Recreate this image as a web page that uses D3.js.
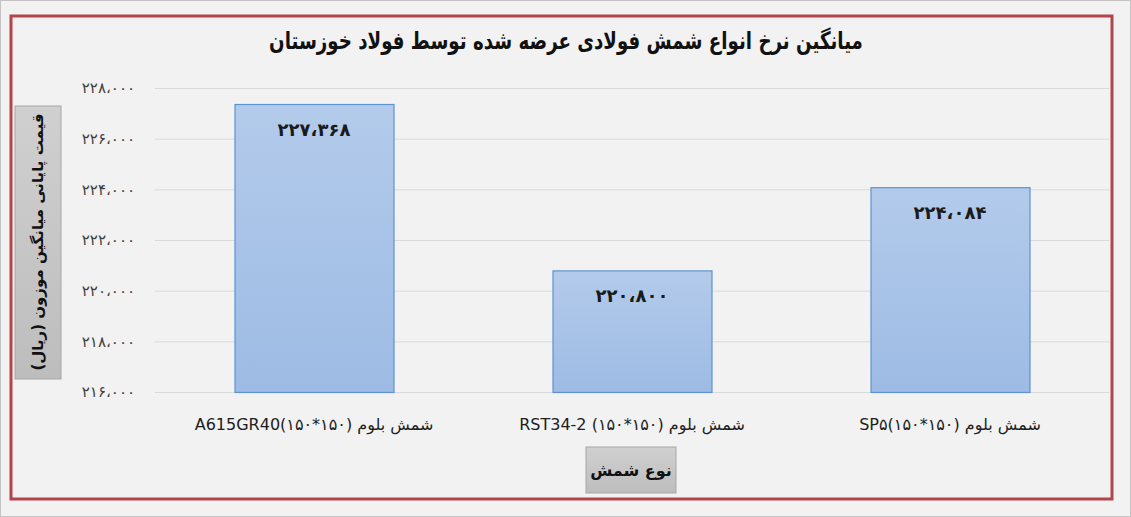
<!DOCTYPE html>
<html><head><meta charset="utf-8">
<script src="https://cdn.jsdelivr.net/npm/d3@7"></script>
<style>html,body{margin:0;padding:0;background:#f2f2f2;}svg{display:block;}</style>
</head><body>
<script>
const categories = ["شمش بلوم (۱۵۰*۱۵۰)A615GR40", "شمش بلوم (۱۵۰*۱۵۰) RST34-2", "شمش بلوم (۱۵۰*۱۵۰)SP۵"];
const values = [227368, 220800, 224084];
const valueLabels = ["۲۲۷،۳۶۸", "۲۲۰،۸۰۰", "۲۲۴،۰۸۴"];
const tickValues = [216000, 218000, 220000, 222000, 224000, 226000, 228000];
const tickLabels = ["۲۱۶،۰۰۰", "۲۱۸،۰۰۰", "۲۲۰،۰۰۰", "۲۲۲،۰۰۰", "۲۲۴،۰۰۰", "۲۲۶،۰۰۰", "۲۲۸،۰۰۰"];
const title = "میانگین نرخ انواع شمش فولادی عرضه شده توسط فولاد خوزستان";
const yTitle = "قیمت پایانی میانگین موزون (ریال)";
const xTitle = "نوع شمش";

const W = 1131, H = 517;
const svg = d3.select("body").append("svg").attr("width", W).attr("height", H);
const font = "'DejaVu Sans', sans-serif";

const defs = svg.append("defs");
const g1 = defs.append("linearGradient").attr("id","barg").attr("x1",0).attr("x2",0).attr("y1",0).attr("y2",1);
g1.append("stop").attr("offset","0%").attr("stop-color","#b3cbeb");
g1.append("stop").attr("offset","100%").attr("stop-color","#9dbbe4");
const g2 = defs.append("linearGradient").attr("id","boxg").attr("x1",0).attr("x2",0).attr("y1",0).attr("y2",1);
g2.append("stop").attr("offset","0%").attr("stop-color","#d0d0d0");
g2.append("stop").attr("offset","100%").attr("stop-color","#bdbdbd");

svg.append("rect").attr("x",0.5).attr("y",0.5).attr("width",W-1).attr("height",H-1)
  .attr("fill","#f2f2f2").attr("stroke","#c4c4c4");

svg.append("rect").attr("x",11).attr("y",16).attr("width",1101).attr("height",483)
  .attr("fill","none").attr("stroke","#b3444a").attr("stroke-width",3);

const plot = {left:155, right:1109, top:88, bottom:392};
const y = d3.scaleLinear().domain([216000, 228000]).range([plot.bottom, plot.top]);
const x = d3.scaleBand().domain(categories).range([plot.left, plot.right]).paddingInner(0.5).paddingOuter(0.25);

// grid
svg.append("g").selectAll("line").data(tickValues).join("line")
  .attr("x1", plot.left).attr("x2", plot.right)
  .attr("y1", d=>y(d)+0.5).attr("y2", d=>y(d)+0.5)
  .attr("stroke","#d9d9d9").attr("stroke-width",1);

const yAxis = d3.axisLeft(y).tickValues(tickValues).tickFormat((d,i)=>tickLabels[i]).tickSize(0).tickPadding(20);
const ya = svg.append("g").attr("transform",`translate(${plot.left},0)`).call(yAxis);
ya.select(".domain").remove();
ya.selectAll("text").attr("font-family", font).attr("font-size", 15).attr("fill","#404040");

// bars
svg.append("g").selectAll("rect").data(values).join("rect")
  .attr("x",(d,i)=>x(categories[i])+0.5).attr("width",x.bandwidth())
  .attr("y",d=>y(d)+0.5).attr("height",d=>plot.bottom-y(d))
  .attr("fill","url(#barg)").attr("stroke","#5f92d0").attr("stroke-width",1.2);

svg.append("g").selectAll("text").data(values).join("text")
  .attr("x",(d,i)=>x(categories[i])+x.bandwidth()/2).attr("y",d=>y(d)+32)
  .attr("text-anchor","middle").attr("font-family",font).attr("font-weight","bold")
  .attr("font-size",18).attr("fill","#1a1a1a").text((d,i)=>valueLabels[i]);

const xAxis = d3.axisBottom(x).tickSize(0).tickPadding(27);
const xa = svg.append("g").attr("transform",`translate(0,${plot.bottom})`).call(xAxis);
xa.select(".domain").remove();
xa.selectAll("text").attr("font-family", font).attr("font-size", 16).attr("fill","#202020").attr("direction","rtl").attr("text-anchor","middle");

// title
svg.append("text").attr("transform","translate(566,49) scale(0.76,1)").attr("text-anchor","middle")
  .attr("font-family",font).attr("font-weight","bold").attr("font-size",24).attr("fill","#111").text(title);

// y title box
svg.append("rect").attr("x",15).attr("y",106).attr("width",46).attr("height",273)
  .attr("fill","url(#boxg)").attr("stroke","#a6a6a6");
svg.append("text").attr("transform","translate(38,242) rotate(-90)").attr("text-anchor","middle")
  .attr("dominant-baseline","central").attr("direction","rtl")
  .attr("font-family",font).attr("font-weight","bold").attr("font-size",15).attr("fill","#111").text(yTitle);

// x title box
svg.append("rect").attr("x",586).attr("y",447).attr("width",90).attr("height",46)
  .attr("fill","url(#boxg)").attr("stroke","#a6a6a6");
svg.append("text").attr("x",631).attr("y",470).attr("text-anchor","middle").attr("dominant-baseline","central")
  .attr("font-family",font).attr("font-weight","bold").attr("font-size",16).attr("fill","#111").text(xTitle);
</script>
</body></html>
